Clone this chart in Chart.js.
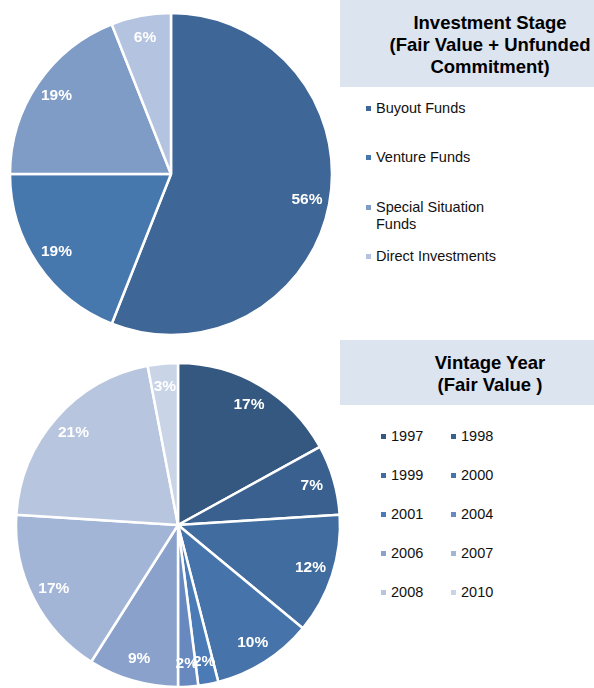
<!DOCTYPE html>
<html>
<head>
<meta charset="utf-8">
<script src="https://cdn.jsdelivr.net/npm/chart.js@4"></script>
<style>
	html, body { margin: 0; padding: 0; background: #fff; }
	body { width: 594px; height: 688px; position: relative; overflow: hidden; font-family: "Liberation Sans", Arial, sans-serif; }
	.pie { position: absolute; }
	.head { position: absolute; left: 340px; width: 300px; background: #dce4f0; color: #000; font-weight: bold; font-size: 18.5px; line-height: 22px; text-align: center; box-sizing: border-box; }
	.legend { position: absolute; color: #111; }
	.legend .item { position: absolute; display: flex; align-items: flex-start; }
	.legend .sq { width: 5px; height: 5px; margin-top: 6px; margin-right: 5px; flex: none; }
</style>
</head>
<body>
<div class="pie" style="left:0;top:0;width:342px;height:348px"><canvas id="chart-stage"></canvas></div>
<div class="pie" style="left:0;top:357px;width:356px;height:336px"><canvas id="chart-vintage"></canvas></div>

<div class="head" style="top:0;height:87px;padding-top:12px">Investment Stage<br>(Fair Value + Unfunded<br>Commitment)</div>
<div class="head" style="top:340px;height:65px;padding-top:12px">Vintage Year<br>(Fair Value )</div>

<div class="legend" id="legend-stage"></div>
<div class="legend" id="legend-vintage"></div>

<script>
const STAGE_LABELS = ["Buyout Funds", "Venture Funds", "Special Situation Funds", "Direct Investments"];
const STAGE_VALUES = [56, 19, 19, 6];
const STAGE_COLORS = ["#3e6696", "#4677ad", "#7f9cc7", "#b4c4e0"];

const VINTAGE_LABELS = ["1997", "1998", "1999", "2000", "2001", "2004", "2006", "2007", "2008", "2010"];
const VINTAGE_VALUES = [17, 7, 12, 10, 2, 2, 9, 17, 21, 3];
const VINTAGE_COLORS = ["#34587f", "#3a608f", "#416c9f", "#4674aa", "#4a7bb6", "#6789c0", "#89a1cb", "#a3b5d6", "#b8c5de", "#cad4e7"];

//--------------------------------------------
// Percent labels inside the slices
//--------------------------------------------
const sliceLabels = {
	id: "sliceLabels",
	afterDatasetsDraw(chart) {
		const ctx = chart.ctx;
		const meta = chart.getDatasetMeta(0);
		const values = chart.data.datasets[0].data;
		const total = values.reduce((a, b) => a + b, 0);
		ctx.save();
		ctx.fillStyle = "#fff";
		ctx.font = "bold 15.5px 'Liberation Sans', Arial, sans-serif";
		ctx.textAlign = "center";
		ctx.textBaseline = "middle";
		meta.data.forEach((arc, i) => {
			const { x, y, startAngle, endAngle, outerRadius } = arc.getProps(["x", "y", "startAngle", "endAngle", "outerRadius"]);
			const mid = (startAngle + endAngle) / 2;
			const r = outerRadius * 0.86;
			const pct = Math.round((values[i] / total) * 100) + "%";
			ctx.fillText(pct, x + Math.cos(mid) * r, y + Math.sin(mid) * r);
		});
		ctx.restore();
	},
};

const pieConfig = (labels, values, colors, radius) => ({
	type: "pie",
	data: {
		labels: labels,
		datasets: [
			{
				data: values,
				backgroundColor: colors,
				borderColor: "#fff",
				borderWidth: 2.5,
			},
		],
	},
	options: {
		responsive: true,
		maintainAspectRatio: false,
		animation: false,
		radius: radius,
		layout: { padding: 0 },
		plugins: {
			legend: { display: false },
			tooltip: { enabled: false },
		},
	},
	plugins: [sliceLabels],
});

new Chart(document.getElementById("chart-stage"), pieConfig(STAGE_LABELS, STAGE_VALUES, STAGE_COLORS, 161));
new Chart(document.getElementById("chart-vintage"), pieConfig(VINTAGE_LABELS, VINTAGE_VALUES, VINTAGE_COLORS, 162));

//--------------------------------------------
// Legends
//--------------------------------------------
const STAGE_ROWS = [100, 149, 199, 248];
let html = "";
STAGE_LABELS.forEach((label, i) => {
	html += `<div class="item" style="left:366px;top:${STAGE_ROWS[i]}px;font-size:14.5px;line-height:17px;width:140px">
				<span class="sq" style="background:${STAGE_COLORS[i]}"></span><span style="width:125px">${label}</span>
			</div>`;
});
document.getElementById("legend-stage").innerHTML = html;

html = "";
VINTAGE_LABELS.forEach((label, i) => {
	const col = i % 2;
	const row = Math.floor(i / 2);
	html += `<div class="item" style="left:${col ? 451 : 381}px;top:${428 + row * 39}px;font-size:14.5px;line-height:17px">
				<span class="sq" style="background:${VINTAGE_COLORS[i]}"></span><span>${label}</span>
			</div>`;
});
document.getElementById("legend-vintage").innerHTML = html;
</script>
</body>
</html>
